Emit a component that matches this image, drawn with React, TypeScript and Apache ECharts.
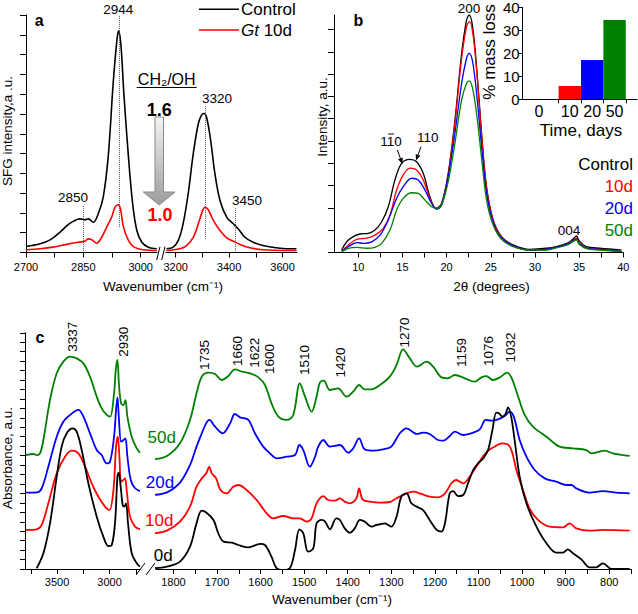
import React, { useEffect, useRef } from "react";
import * as echarts from "echarts";

const FONT = '"Liberation Sans", Arial, Helvetica, sans-serif';
const BLACK = "#000000";
const RED = "#ff0000";
const BLUE = "#0000ff";
const GREEN = "#008000";

// ---------------- Panel a: SFG spectra ----------------
const sfgControlLow = [[2700,0.30],[2737,0.44],[2763,0.64],[2789,1.03],[2811,1.42],[2828,1.62],[2841,1.70],[2854,1.65],[2863,1.70],[2876,1.53],[2889,1.96],[2902,2.80],[2915,4.83],[2928,8.54],[2937,10.57],[2942,11.2],[2948,10.57],[2956,8.03],[2968,4.83],[2979,2.47],[2990,1.11],[3003,0.52],[3020,0.27],[3042,0.19]];
const sfgControlHigh = [[3166,0.19],[3191,0.27],[3210,0.61],[3228,1.45],[3247,2.97],[3266,5.0],[3285,6.52],[3297,6.94],[3306,7.02],[3316,6.82],[3331,5.67],[3347,3.98],[3366,2.63],[3391,1.79],[3416,1.45],[3434,1.2],[3459,0.77],[3490,0.52],[3527,0.35],[3577,0.24],[3614,0.19],[3652,0.19]];
const sfgGtLow = [[2700,0.14],[2737,0.19],[2771,0.27],[2806,0.41],[2837,0.52],[2854,0.57],[2863,0.69],[2872,0.64],[2885,0.47],[2898,0.77],[2911,1.28],[2924,1.79],[2933,2.29],[2941,2.41],[2947,2.21],[2955,1.28],[2968,0.61],[2981,0.30],[3007,0.14],[3042,0.10]];
const sfgGtHigh = [[3166,0.10],[3216,0.19],[3241,0.35],[3266,0.77],[3285,1.45],[3301,2.13],[3310,2.29],[3322,2.16],[3341,1.62],[3366,1.11],[3391,0.74],[3416,0.57],[3441,0.41],[3478,0.24],[3527,0.14],[3603,0.10],[3652,0.10]];
const sfgPeakLinesLow = [[2943, 1.28, 12], [2850, 0.07, 2.38]];
const sfgPeakLinesHigh = [[3309, 0.69, 7.44], [3423, 0.07, 2.29]];
const sfgTicksLow = [2700, 2775, 2850, 2925, 3000];
const sfgLabelsLow = [2700, 2850, 3000];
const sfgTicksHigh = [3200, 3300, 3400, 3500, 3600];
const sfgLabelsHigh = [3200, 3400, 3600];

// ---------------- Panel b: XRD ----------------
const xrdControl = [[8.12,0.11],[8.69,0.48],[9.43,0.71],[10.19,0.83],[11.13,0.86],[11.89,1.01],[12.65,1.38],[13.39,2.05],[14.15,3.25],[14.9,4.0],[15.85,4.18],[16.6,4.07],[17.35,3.55],[18.11,2.5],[18.79,1.98],[19.43,2.2],[20.18,3.55],[20.94,5.94],[21.7,8.93],[22.26,10.43],[22.56,10.65],[22.94,10.13],[23.39,8.33],[23.96,5.35],[24.52,2.95],[25.27,1.46],[26.22,0.71],[27.53,0.34],[29.42,0.14],[31.31,0.19],[32.62,0.29],[33.76,0.43],[34.5,0.68],[34.7,0.74],[35.0,0.53],[35.84,0.26],[37.34,0.19],[39.8,0.11]];
const xrd10d = [[8.12,0.05],[8.87,0.34],[9.82,0.59],[10.95,0.64],[11.89,0.78],[12.83,1.08],[13.59,1.68],[14.34,2.8],[15.09,3.48],[15.85,3.78],[16.6,3.7],[17.35,3.25],[18.11,2.43],[18.79,1.98],[19.43,2.17],[20.18,3.48],[20.94,5.79],[21.7,8.71],[22.26,10.13],[22.56,10.35],[22.94,9.9],[23.39,8.18],[23.96,5.19],[24.52,2.88],[25.27,1.43],[26.22,0.68],[27.53,0.3],[29.42,0.11],[31.31,0.14],[32.62,0.26],[33.76,0.39],[34.7,0.64],[35.0,0.44],[35.84,0.2],[37.34,0.14],[39.8,0.05]];
const xrd20d = [[8.12,0.05],[8.87,0.26],[9.82,0.44],[10.57,0.41],[11.52,0.48],[12.46,0.78],[13.39,1.46],[14.34,2.43],[15.09,2.95],[16.04,3.33],[16.79,3.25],[17.55,2.8],[18.3,2.2],[18.87,1.94],[19.43,2.13],[20.18,3.4],[20.94,5.35],[21.7,7.59],[22.26,8.71],[22.56,8.93],[22.94,8.56],[23.39,7.14],[23.96,4.74],[24.52,2.65],[25.27,1.34],[26.22,0.64],[27.53,0.3],[29.42,0.11],[31.31,0.14],[32.62,0.26],[33.76,0.39],[34.7,0.6],[35.0,0.4],[35.84,0.2],[37.34,0.14],[39.8,0.05]];
const xrd50d = [[8.12,0.04],[8.87,0.19],[9.82,0.23],[10.95,0.19],[11.89,0.23],[12.65,0.41],[13.59,1.01],[14.34,1.91],[15.09,2.43],[16.04,2.68],[16.79,2.65],[17.55,2.35],[18.3,2.05],[18.87,1.98],[19.43,2.13],[20.18,3.18],[20.94,4.9],[21.7,6.84],[22.26,7.59],[22.56,7.7],[22.94,7.36],[23.39,6.24],[23.96,4.22],[24.52,2.35],[25.27,1.23],[26.22,0.59],[27.53,0.26],[29.42,0.11],[31.31,0.11],[32.62,0.23],[33.76,0.35],[34.7,0.56],[35.0,0.37],[35.84,0.17],[37.34,0.11],[39.8,0.05]];
const xrdTicks = [10, 12.5, 15, 17.5, 20, 22.5, 25, 27.5, 30, 32.5, 35, 37.5, 40];
const xrdLabels = [10, 15, 20, 25, 30, 35, 40];
const xrdYTicks = [0, 1, 2, 3, 4, 5, 6, 7, 8, 9, 10];

// inset: mass loss
const massDays = ["0", "10", "20", "50"];
const massLoss = [0, 5.8, 17.1, 34.5];
const massColors = [BLACK, RED, BLUE, GREEN];

// ---------------- Panel c: FTIR ----------------
const ftir0dHigh = [[3694,0.07],[3630,1.66],[3567,4.83],[3503,9.77],[3456,12.95],[3408,14.36],[3351,14.89],[3313,14.53],[3265,12.59],[3202,9.07],[3122,5.54],[3059,3.42],[3011,2.43],[2979,2.54],[2948,4.83],[2925,9.77],[2913,10.19],[2894,8.71],[2875,6.77],[2859,6.6],[2843,6.95],[2824,4.83],[2789,1.66],[2741,0.6],[2710,0.25]];
const ftir0dLow = [[1846,0.07],[1815,0.25],[1785,0.78],[1762,2.36],[1747,4.83],[1735,6.17],[1724,5.96],[1708,5.19],[1697,3.77],[1685,2.89],[1666,2.79],[1651,2.54],[1628,2.29],[1601,2.65],[1590,2.54],[1575,1.31],[1563,0.07],[1548,-0.1],[1533,0.07],[1521,2.01],[1511,4.2],[1502,3.77],[1491,1.83],[1479,2.19],[1471.5,4.83],[1460,5.19],[1452,5.01],[1441,4.2],[1426,5.36],[1418,5.19],[1407,4.3],[1395,3.84],[1384,4.3],[1372,5.19],[1361,5.01],[1345,4.48],[1334,4.66],[1326,4.73],[1315,4.83],[1300,4.48],[1288,5.54],[1277,7.65],[1265,8.01],[1254,6.95],[1242,6.6],[1227,6.24],[1212,5.19],[1196,4.13],[1185,3.95],[1177,4.83],[1166,8.01],[1158,8.25],[1147,7.72],[1135,7.83],[1124,9.07],[1112,10.48],[1101,11.18],[1089,11.71],[1078,12.59],[1068,14.71],[1059,16.54],[1053,16.47],[1045,16.12],[1038,16.4],[1032,17.11],[1025,16.12],[1017,13.65],[1005.5,9.77],[990,6.95],[967,4.48],[944,2.72],[921.5,1.73],[906,1.73],[895,2.08],[883,1.66],[864,1.02],[845,0.18],[830,0.18],[814.5,0.6],[805,0.32],[795,0],[753,0]];
const ftir10dHigh = [[3795,4.13],[3694,4.2],[3646,4.66],[3583,6.95],[3503,10.12],[3424,11.89],[3360,12.52],[3297,12.24],[3233,10.83],[3170,9.07],[3106,7.65],[3043,6.6],[3002,6.24],[2963,8.36],[2938,12.95],[2922,14.0],[2906,11.89],[2890,9.24],[2868,9.42],[2852,9.59],[2837,8.36],[2805,5.54],[2757,4.48],[2710,4.2]];
const ftir10dLow = [[1846,3.77],[1815,4.06],[1785,5.01],[1762,6.6],[1747,8.71],[1735,9.59],[1724,10.19],[1718,10.83],[1712,10.12],[1702,9.59],[1692,8.36],[1678,8.01],[1662.5,8.71],[1651,8.89],[1632,8.36],[1609,7.3],[1586,5.89],[1571,5.36],[1548,5.61],[1525,5.36],[1510,5.36],[1494.5,5.01],[1483,5.36],[1471.5,6.95],[1456,7.72],[1445,7.3],[1429.5,7.23],[1418,7.48],[1407,7.13],[1395,6.95],[1380,7.48],[1374,8.54],[1366,7.37],[1349,7.13],[1326,7.02],[1303.5,7.09],[1288,7.48],[1265,8.01],[1250,8.18],[1231,7.94],[1212,7.65],[1193,7.58],[1177,8.01],[1162,9.07],[1151,9.42],[1135,9.07],[1120,9.77],[1105,10.83],[1089,11.96],[1078,12.52],[1063,12.95],[1047,13.3],[1034.5,13.23],[1024.5,12.59],[1013,10.48],[998,8.36],[983,6.42],[963.5,5.19],[937,4.48],[906,4.41],[891,4.83],[875.7,4.3],[845,4.06],[814.5,4.13],[753,4.06]];
const ftir20dHigh = [[3795,8.08],[3694,8.11],[3646,8.54],[3583,10.83],[3503,14.0],[3440,15.59],[3376,16.3],[3297,16.83],[3249,16.12],[3186,14.36],[3122,12.59],[3075,12.06],[3027,11.18],[2995,11.36],[2957,14.0],[2938,16.83],[2925,18.17],[2910,15.77],[2890,13.47],[2868,13.65],[2849,13.83],[2830,11.89],[2798,9.42],[2757,8.54],[2710,8.25]];
const ftir20dLow = [[1846,7.83],[1815,8.11],[1785,9.14],[1762,11.0],[1747,12.95],[1735,14.36],[1725,15.41],[1717.5,15.77],[1704.5,15.06],[1687,14.36],[1670,15.41],[1659,16.4],[1647,16.05],[1628,15.77],[1613,14.36],[1594,12.95],[1578.5,12.24],[1563,11.71],[1540,11.89],[1521,12.06],[1511,13.12],[1502,12.59],[1487,10.83],[1475,11.89],[1467.7,12.95],[1456,13.65],[1441,12.95],[1418,13.12],[1399,12.31],[1387.5,12.77],[1374,13.83],[1361,12.66],[1342,12.52],[1319,12.66],[1300,12.95],[1280.5,14.36],[1265,14.89],[1242,14.29],[1227,14.43],[1212,14.29],[1193,13.65],[1181,13.58],[1166,14.07],[1154.5,14.53],[1135,14.18],[1112,14.43],[1097,14.78],[1083,15.77],[1070.5,15.7],[1055,15.84],[1040,16.19],[1028.5,16.65],[1019,16.12],[1005.5,13.65],[990,11.89],[971,10.48],[948,9.59],[921.5,9.24],[898.5,8.89],[887,8.89],[875.7,8.54],[845,8.08],[814.5,8.25],[784,8.08],[753,8.01]];
const ftir50dHigh = [[3795,12.06],[3725,12.17],[3694,12.06],[3662,12.24],[3630,13.65],[3567,17.88],[3503,20.71],[3440,21.94],[3376,22.47],[3313,22.29],[3249,21.76],[3186,20.35],[3122,18.24],[3075,17.0],[3027,16.3],[2995,16.12],[2957,18.59],[2941,21.06],[2925,22.12],[2910,19.47],[2890,17.53],[2868,17.35],[2849,17.88],[2830,16.12],[2789,14.0],[2741,12.77],[2710,12.31]];
const ftir50dLow = [[1846,11.6],[1815,11.96],[1785,13.3],[1762,15.77],[1747,18.59],[1735,20.35],[1720,20.78],[1704.5,20.63],[1689,20.0],[1674,20.42],[1659,21.13],[1643,20.88],[1624,20.71],[1605,20.28],[1590,19.47],[1575,17.53],[1559,16.12],[1540,15.77],[1525,16.3],[1510,19.65],[1498,18.24],[1483,16.65],[1471.5,18.24],[1464,19.72],[1455,19.93],[1441,18.94],[1422,19.12],[1403,18.24],[1387.5,18.77],[1374,19.47],[1361,19.01],[1345.5,19.01],[1326,19.47],[1303.5,20.35],[1288,21.59],[1273,23.24],[1257.5,22.29],[1241,21.41],[1219,21.94],[1204,21.41],[1185,20.28],[1170,20.18],[1154.5,20.53],[1131.5,20.18],[1109,19.82],[1093,20.28],[1082,20.42],[1067,20.0],[1051,20.28],[1034.5,20.78],[1024.5,20.28],[1009,18.24],[994,16.3],[975,15.06],[944,14.0],[914,12.95],[883,12.77],[852.7,12.59],[841,12.24],[822,12.42],[811,12.52],[792,12.24],[753,11.96]];
const ftirTicksHigh = [3750, 3500, 3250, 3000, 2750];
const ftirLabelsHigh = [3500, 3000];
const ftirTicksLow = [1800, 1750, 1700, 1650, 1600, 1550, 1500, 1450, 1400, 1350, 1300, 1250, 1200, 1150, 1100, 1050, 1000, 950, 900, 850, 800, 750];
const ftirLabelsLow = [1800, 1700, 1600, 1500, 1400, 1300, 1200, 1100, 1000, 900, 800];
const ftirPeakLabels = ["3337", "2930", "1735", "1660", "1622", "1600", "1510", "1420", "1270", "1159", "1076", "1032"];

// ---------------- helpers ----------------
const fmt = (v: number) => `${v}`;

function xAxis(gridIndex: number, min: number, max: number, ticks: number[], labels: number[], inverse = false, margin = 9) {
  return {
    type: "value", gridIndex, min, max, inverse,
    axisLine: { show: true, onZero: false, lineStyle: { color: "#000", width: 1 } },
    axisTick: { show: true, length: 5, customValues: ticks, lineStyle: { color: "#000", width: 1 } },
    axisLabel: { show: true, customValues: labels, formatter: fmt, fontSize: 11, color: "#000", fontFamily: FONT, margin },
    splitLine: { show: false },
  };
}
function yAxis(gridIndex: number, max: number, opts: any = {}) {
  return {
    type: "value", gridIndex, min: 0, max, show: opts.show !== false,
    interval: opts.interval,
    axisLine: { show: true, onZero: false, lineStyle: { color: "#000", width: 1 } },
    axisTick: { show: true, length: opts.tickLen || 6, customValues: opts.ticks, lineStyle: { color: "#000", width: 1 } },
    axisLabel: opts.label || { show: false },
    splitLine: { show: false },
  };
}
function T(x: number, y: number, text: string, o: any = {}) {
  const align = o.align || "center";
  const va = o.va || "middle";
  return {
    type: "text", x, y, rotation: o.rot || 0, silent: true, z: 100,
    style: {
      text, fill: o.color || "#000", fontSize: o.size || 13.5, fontFamily: FONT,
      fontWeight: o.weight || "normal", fontStyle: o.italic ? "italic" : "normal",
      align, verticalAlign: va, textAlign: align, textVerticalAlign: va, rich: o.rich,
    },
  };
}
function L(x1: number, y1: number, x2: number, y2: number, stroke = "#000", w = 1) {
  return { type: "line", silent: true, z: 100, shape: { x1, y1, x2, y2 }, style: { stroke, lineWidth: w } };
}
function arrow(x1: number, y1: number, x2: number, y2: number) {
  const dx = x2 - x1, dy = y2 - y1;
  const len = Math.hypot(dx, dy);
  const ux = dx / len, uy = dy / len;
  const bx = x2 - 6 * ux, by = y2 - 6 * uy;
  const px = -uy, py = ux;
  return [
    L(x1, y1, bx, by, "#000", 1),
    { type: "polygon", silent: true, z: 100, shape: { points: [[x2, y2], [bx + 2.5 * px, by + 2.5 * py], [bx - 2.5 * px, by - 2.5 * py]] }, style: { fill: "#000" } },
  ];
}
function lineSeries(data: number[][], xi: number, color: string, width: number, extra: any = {}) {
  return {
    type: "line", data, xAxisIndex: xi, yAxisIndex: xi, showSymbol: false, symbol: "none",
    smooth: 0.35, lineStyle: { color, width }, itemStyle: { color }, silent: true, z: 3, ...extra,
  };
}
function peakMarks(lines: number[][]) {
  return {
    silent: true, symbol: ["none", "none"], label: { show: false },
    lineStyle: { type: "dotted", color: "#555", width: 1 },
    data: lines.map(([x, y0, y1]) => [{ coord: [x, y0] }, { coord: [x, y1] }]),
  };
}

export default function App() {
  const ref = useRef<HTMLDivElement>(null);
  useEffect(() => {
    const chart = echarts.init(ref.current!, null, { renderer: "svg" });

    const ftirSets = [
      { color: GREEN, high: ftir50dHigh, low: ftir50dLow },
      { color: BLUE, high: ftir20dHigh, low: ftir20dLow },
      { color: RED, high: ftir10dHigh, low: ftir10dLow },
      { color: BLACK, high: ftir0dHigh, low: ftir0dLow },
    ];
    const xrdSets = [
      { color: BLACK, data: xrdControl },
      { color: RED, data: xrd10d },
      { color: BLUE, data: xrd20d },
      { color: GREEN, data: xrd50d },
    ];

    const series: any[] = [
      lineSeries(sfgControlLow, 0, BLACK, 1.6, { markLine: peakMarks(sfgPeakLinesLow) }),
      lineSeries(sfgControlHigh, 1, BLACK, 1.6, { markLine: peakMarks(sfgPeakLinesHigh) }),
      lineSeries(sfgGtLow, 0, RED, 1.6),
      lineSeries(sfgGtHigh, 1, RED, 1.6),
      ...xrdSets.map((s) => lineSeries(s.data, 2, s.color, 1.3)),
      {
        type: "bar", xAxisIndex: 3, yAxisIndex: 3, barWidth: 22.4, silent: true,
        data: massDays.map((d, i) => ({ value: [i + 0.5, massLoss[i]], itemStyle: { color: massColors[i] } })),
      },
      ...ftirSets.flatMap((s) => [lineSeries(s.high, 4, s.color, 1.8), lineSeries(s.low, 5, s.color, 1.8)]),
    ];

    // peak label positions (rotated) for panel c
    const ftirLabelPos = [[72.5, 336.7], [123, 341.7], [204, 355], [237.5, 351], [254, 352.7], [269, 359], [304, 360], [340, 362.5], [404.7, 332.5], [461.7, 352.5], [488.3, 351], [510, 347.5]];

    const graphics: any[] = [
      // panel a
      T(39.3, 20, "a", { weight: "bold", size: 16 }),
      T(118.3, 9.3, "2944"),
      T(73, 197, "2850"),
      T(217, 98, "3320"),
      T(247, 200, "3450"),
      T(166.7, 79, "CH₂/OH", { size: 16 }),
      L(136.7, 87.5, 196.7, 87.5, "#000", 1),
      {
        type: "polygon", silent: true, z: 90,
        shape: { points: [[155, 117], [163.5, 117], [163.5, 192], [175, 192], [159.2, 205], [143.3, 192], [155, 192]] },
        style: { fill: { type: "linear", x: 0, y: 0, x2: 0, y2: 1, colorStops: [{ offset: 0, color: "#f4f4f4" }, { offset: 1, color: "#9c9c9c" }] }, stroke: "#8a8a8a", lineWidth: 1 },
      },
      T(159.3, 110, "1.6", { weight: "bold", size: 18 }),
      T(160, 215, "1.0", { weight: "bold", size: 18, color: RED }),
      L(199, 9.3, 239, 9.3, BLACK, 1.6),
      T(241, 9.3, "Control", { size: 17, align: "left" }),
      L(199, 30, 239, 30, RED, 1.6),
      T(241, 30, "{i|Gt} 10d", { size: 17, align: "left", rich: { i: { fontStyle: "italic", fontSize: 17, fontFamily: FONT } } }),
      T(7.5, 131, "SFG intensity,a .u.", { rot: Math.PI / 2, size: 13.5 }),
      T(163, 286, "Wavenumber (cm⁻¹)", { size: 13.5 }),
      L(156.7, 260, 160, 246.7), L(161.7, 260, 165, 246.7),
      // panel b
      T(358.3, 20, "b", { weight: "bold", size: 16 }),
      T(469, 8.3, "200"),
      T(427.8, 137, "110"),
      T(391, 141, "110"),
      L(388.3, 134, 394, 134, "#000", 1),
      ...arrow(397.3, 150, 402.5, 164),
      ...arrow(421, 146.7, 416, 160.5),
      T(569, 230, "004"),
      T(633, 164, "Control", { size: 17, align: "right" }),
      T(633, 186, "10d", { size: 17, align: "right", color: RED }),
      T(633, 208, "20d", { size: 17, align: "right", color: BLUE }),
      T(633, 230, "50d", { size: 17, align: "right", color: GREEN }),
      T(322, 117, "Intensity, a.u.", { rot: Math.PI / 2, size: 13.5 }),
      T(491.5, 286, "2θ (degrees)", { size: 13.5 }),
      T(489.5, 52, "% mass loss", { rot: Math.PI / 2, size: 17 }),
      T(581, 130, "Time, days", { size: 17 }),
      // panel c
      T(40, 337, "c", { weight: "bold", size: 16 }),
      ...ftirPeakLabels.map((t, i) => T(ftirLabelPos[i][0], ftirLabelPos[i][1], t, { rot: Math.PI / 2, size: 13.5 })),
      T(161.7, 437, "50d", { size: 17, color: GREEN }),
      T(160, 482, "20d", { size: 17, color: BLUE }),
      T(159.3, 520, "10d", { size: 17, color: RED }),
      T(163.3, 555, "0d", { size: 17, color: BLACK }),
      T(7, 458, "Absorbance, a.u.", { rot: Math.PI / 2, size: 13.5 }),
      T(332, 599, "Wavenumber (cm⁻¹)", { size: 13.5 }),
      L(136, 575, 145, 563), L(146, 575, 155, 563),
    ];

    const option: any = {
      animation: false,
      backgroundColor: "#ffffff",
      textStyle: { fontFamily: FONT },
      grid: [
        { left: 26, top: 15, width: 131, height: 237.5 },
        { left: 166, top: 15, width: 131, height: 237.5 },
        { left: 334, top: 15, width: 289.3, height: 237.5 },
        { left: 522.7, top: 7.3, width: 114.3, height: 92 },
        { left: 25, top: 332.75, width: 115, height: 236.25 },
        { left: 156, top: 332.75, width: 475, height: 236.25 },
      ],
      xAxis: [
        xAxis(0, 2700, 3042.7, sfgTicksLow, sfgLabelsLow),
        xAxis(1, 3164, 3654, sfgTicksHigh, sfgLabelsHigh),
        xAxis(2, 7.25, 40, xrdTicks, xrdLabels),
        {
          type: "value", gridIndex: 3, min: -0.6, max: 4.5,
          axisLine: { show: true, onZero: false, lineStyle: { color: "#000", width: 1 } },
          axisTick: { show: true, length: 4, customValues: [1, 2, 3, 4], lineStyle: { color: "#000" } },
          axisLabel: { show: true, customValues: [0.13, 1.5, 2.5, 3.5], formatter: (v: number) => massDays[v < 1 ? 0 : Math.floor(v)], fontSize: 16, color: "#000", fontFamily: FONT, margin: 4 },
          splitLine: { show: false },
        },
        xAxis(4, 2710, 3805, ftirTicksHigh, ftirLabelsHigh, true, 7),
        xAxis(5, 750, 1840, ftirTicksLow, ftirLabelsLow, true, 7),
      ],
      yAxis: [
        yAxis(0, 12, { interval: 1 }),
        yAxis(1, 12, { interval: 1, show: false }),
        yAxis(2, 10.65, { ticks: xrdYTicks }),
        yAxis(3, 40, { interval: 10, tickLen: 4, label: { show: true, fontSize: 15, color: "#000", fontFamily: FONT, margin: 3 } }),
        yAxis(4, 25, { interval: 1, tickLen: 5 }),
        yAxis(5, 25, { interval: 1, show: false }),
      ],
      series,
      graphic: { elements: graphics },
    };
    chart.setOption(option);
    return () => chart.dispose();
  }, []);
  return <div ref={ref} style={{ position: "fixed", left: 0, top: 0, width: 638, height: 614, background: "#fff" }} />;
}
